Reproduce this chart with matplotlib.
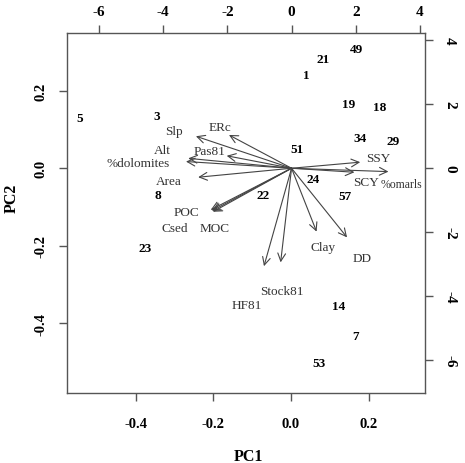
import matplotlib
matplotlib.use("Agg")
import matplotlib.pyplot as plt

plt.rcParams["font.family"] = ["Liberation Serif", "DejaVu Serif"]

# observation scores (PC1, PC2)
obs_labels = ["5", "3", "8", "23", "22", "51", "24", "57", "34", "29",
              "19", "18", "1", "21", "49", "14", "7", "53"]
obs_pc1 = [-0.543, -0.347, -0.344, -0.376, -0.073, 0.015, 0.057, 0.140, 0.179,
           0.262, 0.148, 0.229, 0.040, 0.083, 0.169, 0.122, 0.167, 0.072]
obs_pc2 = [0.129, 0.134, -0.069, -0.205, -0.068, 0.050, -0.028, -0.072, 0.077,
           0.070, 0.165, 0.158, 0.240, 0.282, 0.307, -0.354, -0.431, -0.503]

# variable loadings (arrow tips) and label anchors, top/right axis units
var_names = ["Slp", "ERc", "Pas81", "Alt", "%dolomites", "Area", "POC", "Csed",
             "MOC", "Clay", "DD", "Stock81", "HF81", "SSY", "SCY", "%omarls"]
load_x = [-2.98, -1.95, -2.02, -3.22, -3.29, -2.91, -2.52, -2.48, -2.45,
          0.78, 1.73, -0.34, -0.86, 2.14, 1.96, 3.02]
load_y = [1.00, 1.04, 0.39, 0.31, 0.21, -0.28, -1.30, -1.33, -1.36,
          -1.98, -2.16, -2.94, -3.06, 0.19, -0.125, -0.105]
lab_x = [-3.67, -2.23, -2.57, -4.02, -4.77, -3.81, -3.29, -3.63, -2.39,
         0.98, 2.21, -0.29, -1.38, 2.71, 2.33, 3.44]
lab_y = [1.17, 1.28, 0.55, 0.57, 0.16, -0.39, -1.38, -1.88, -1.88,
         -2.47, -2.79, -3.83, -4.26, 0.31, -0.42, -0.49]

EDGE = "#555555"

fig = plt.figure(figsize=(4.65, 4.64), dpi=100)
pos = [0.144, 0.151, 0.770, 0.776]
ax = fig.add_axes(pos)
ax.set_xlim(-0.577, 0.345)
ax.set_ylim(-0.579, 0.349)
for s in ax.spines.values():
    s.set_color(EDGE)
    s.set_linewidth(1.0)

for t, x, y in zip(obs_labels, obs_pc1, obs_pc2):
    ax.text(x, y, t, ha="center", va="center", fontsize=9.5, fontweight="bold")

ax.set_xticks([-0.4, -0.2, 0.0, 0.2])
ax.set_yticks([-0.4, -0.2, 0.0, 0.2])
ax.set_xticklabels(["-0.4", "-0.2", "0.0", "0.2"])
ax.set_yticklabels(["-0.4", "-0.2", "0.0", "0.2"], rotation=90, va="center")
ax.tick_params(axis="x", length=6, width=1, color=EDGE, pad=11, labelsize=10.5)
ax.tick_params(axis="y", length=6, width=1, color=EDGE, pad=8, labelsize=10.5)
for lbl in ax.get_xticklabels() + ax.get_yticklabels():
    lbl.set_fontweight("bold")
ax.set_xlabel("PC1", fontsize=11.5, fontweight="bold", va="center")
ax.set_ylabel("PC2", fontsize=11.5, fontweight="bold", va="center")
ax.xaxis.set_label_coords(0.506, -0.175)
ax.yaxis.set_label_coords(-0.154, 0.544)

# secondary axes for loadings
ax2 = fig.add_axes(pos, frameon=False)
ax2.set_xlim(-7.0, 4.16)
ax2.set_ylim(-7.02, 4.23)
ax2.xaxis.tick_top()
ax2.yaxis.tick_right()
ax2.set_xticks([-6, -4, -2, 0, 2, 4])
ax2.set_yticks([-6, -4, -2, 0, 2, 4])
ax2.set_xticklabels(["-6", "-4", "-2", "0", "2", "4"])
ax2.set_yticklabels(["-6", "-4", "-2", "0", "2", "4"], rotation=270, va="center")
ax2.tick_params(axis="x", length=6, width=1, color=EDGE, pad=5, labelsize=11)
ax2.tick_params(axis="y", length=6, width=1, color=EDGE, pad=7, labelsize=11)
for lbl in ax2.get_xticklabels() + ax2.get_yticklabels():
    lbl.set_fontweight("bold")

for name, x, y, tx, ty in zip(var_names, load_x, load_y, lab_x, lab_y):
    ax2.annotate("", xy=(x, y), xytext=(0, 0),
                 arrowprops=dict(arrowstyle="->", color="#444444", lw=0.8,
                                 mutation_scale=14, shrinkA=0, shrinkB=0))
    fs = 8.5 if name == "%omarls" else 9.5
    ax2.text(tx, ty, name, ha="center", va="center", fontsize=fs, color="#333333")

fig.savefig("out.png", dpi=100)
